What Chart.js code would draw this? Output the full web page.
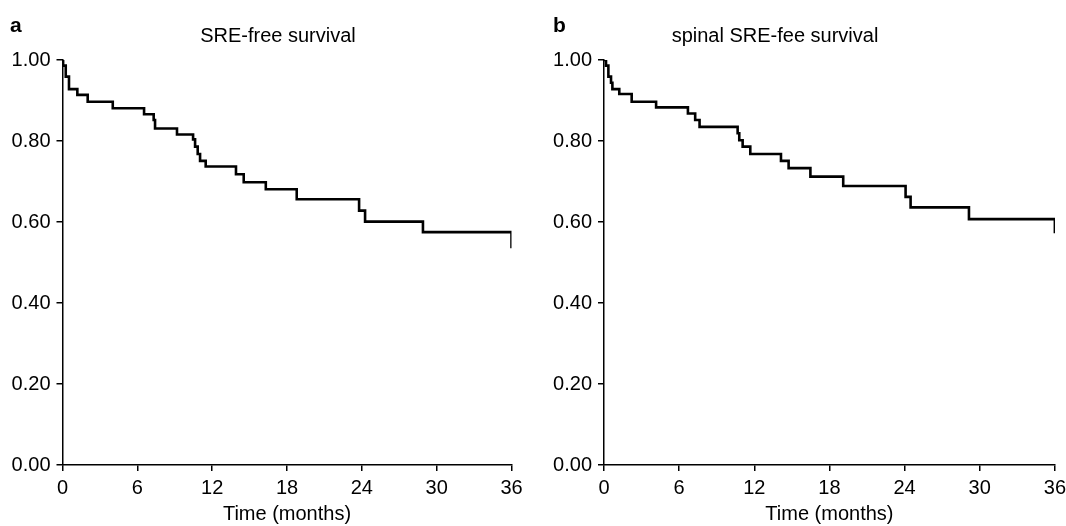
<!DOCTYPE html>
<html>
<head>
<meta charset="utf-8">
<script src="https://cdn.jsdelivr.net/npm/chart.js@4.4.1/dist/chart.umd.min.js"></script>
<style>
  html, body { margin: 0; background: #fff; overflow: hidden; }
  #wrap { position: relative; width: 1066px; height: 526px; overflow: hidden; font-family: "Liberation Sans", Arial, sans-serif; }
  .panel { position: absolute; top: 0; height: 526px; }
  .letter { position: absolute; top: 13px; font-weight: bold; font-size: 21px; }
  .ttl { position: absolute; top: 24px; font-size: 20px; transform: translateX(-50%); white-space: nowrap; }
</style>
</head>
<body>
<div id="wrap">
  <div class="panel" style="left:0"><canvas id="chart-a" width="533" height="526"></canvas></div>
  <div class="panel" style="left:526px"><canvas id="chart-b" width="545" height="526"></canvas></div>
  <div class="letter" style="left:10px">a</div>
  <div class="letter" style="left:553px">b</div>
  <div class="ttl" style="left:278px">SRE-free survival</div>
  <div class="ttl" style="left:775px">spinal SRE-fee survival</div>
</div>
<script>
// valores (tempo em meses, sobrevida acumulada)
const timesA = [0, 0.05, 0.26, 0.52, 1.19, 2.02, 4.03, 6.54, 7.31, 7.42, 9.18, 10.47, 10.63, 10.84, 11.03, 11.48, 13.91, 14.53, 16.3, 18.78, 23.78, 24.26, 28.9, 36];
const survA = [1, 0.986, 0.959, 0.928, 0.914, 0.897, 0.881, 0.866, 0.852, 0.831, 0.816, 0.804, 0.786, 0.768, 0.751, 0.737, 0.718, 0.698, 0.681, 0.656, 0.628, 0.601, 0.575, 0.535];

const timesB = [0, 0.16, 0.35, 0.56, 0.67, 1.22, 2.21, 4.16, 6.7, 7.28, 7.63, 10.67, 10.8, 11.07, 11.68, 14.13, 14.74, 16.48, 19.1, 24.08, 24.48, 29.14, 36];
const survB = [1, 0.986, 0.959, 0.944, 0.928, 0.916, 0.897, 0.883, 0.868, 0.852, 0.835, 0.819, 0.802, 0.786, 0.768, 0.751, 0.733, 0.712, 0.689, 0.662, 0.636, 0.607, 0.572];

const xTicks = [0, 6, 12, 18, 24, 30, 36];
const yTicks = [0, 0.2, 0.4, 0.6, 0.8, 1.0];
const xTitle = 'Time (months)';

const font = { family: '"Liberation Sans", Arial, sans-serif', size: 20 };

function makeKM(id, times, surv, yWidth, rightPad) {
    const ctx = document.getElementById(id).getContext('2d');
    return new Chart(ctx, {
        type: 'line',
        data: {
            datasets: [{
                data: times.map((t, i) => ({ x: t, y: surv[i] })),
                stepped: 'before',
                borderColor: '#000',
                borderWidth: 2.6,
                pointRadius: 0,
                fill: false
            }]
        },
        options: {
            responsive: false,
            animation: false,
            layout: { padding: { left: 0, right: rightPad, top: 60, bottom: 0 } },
            plugins: { legend: { display: false }, tooltip: { enabled: false } },
            scales: {
                x: {
                    type: 'linear',
                    min: 0, max: 36,
                    afterBuildTicks: s => { s.ticks = xTicks.map(v => ({ value: v })); },
                    afterFit: s => { s.height = 61; },
                    grid: { drawOnChartArea: false, drawTicks: true, tickLength: 6, color: '#000', lineWidth: 1.5 },
                    border: { display: true, color: '#000', width: 1.5 },
                    ticks: { color: '#000', font: font, padding: 5, maxRotation: 0 },
                    title: { display: true, text: xTitle, color: '#000', font: font, padding: { top: 0, bottom: 0 } }
                },
                y: {
                    type: 'linear',
                    min: 0, max: 1,
                    afterBuildTicks: s => { s.ticks = yTicks.map(v => ({ value: v })); },
                    afterFit: s => { s.width = yWidth; },
                    grid: { drawOnChartArea: false, drawTicks: true, tickLength: 6, color: '#000', lineWidth: 1.5 },
                    border: { display: true, color: '#000', width: 1.5 },
                    ticks: { color: '#000', font: font, padding: 6, callback: v => v.toFixed(2) }
                }
            }
        }
    });
}

makeKM('chart-a', timesA, survA, 62.5, 21.5);
makeKM('chart-b', timesB, survB, 78, 0);
</script>
</body>
</html>
